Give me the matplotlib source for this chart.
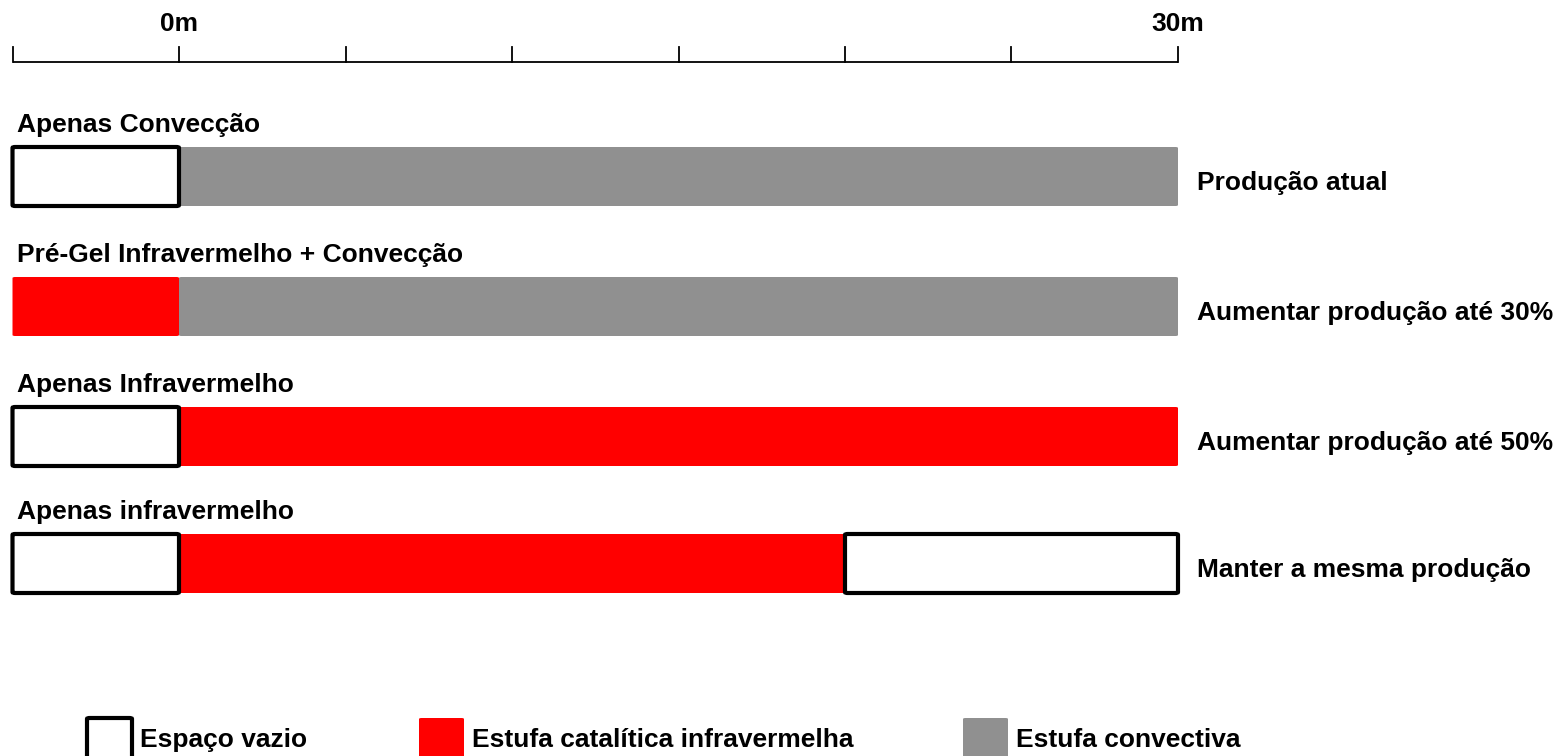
import matplotlib.pyplot as plt
from matplotlib.patches import FancyBboxPatch

plt.rcParams['font.family'] = ['Liberation Sans', 'DejaVu Sans']

# data
titles = ["Apenas Convecção", "Pré-Gel Infravermelho + Convecção",
          "Apenas Infravermelho", "Apenas infravermelho"]
notes = ["Produção atual", "Aumentar produção até 30%",
         "Aumentar produção até 50%", "Manter a mesma produção"]
seg_start = [[-5, 0], [-5, 0], [-5, 0], [-5, 0, 20]]
seg_end = [[0, 30], [0, 30], [0, 30], [0, 20, 30]]
seg_kind = [["vazio", "conv"], ["ir", "conv"], ["vazio", "ir"], ["vazio", "ir", "vazio"]]
scale_ticks = [-5, 0, 5, 10, 15, 20, 25, 30]
scale_labels = {0: "0m", 30: "30m"}
legend_kinds = ["vazio", "ir", "conv"]
legend_names = ["Espaço vazio", "Estufa catalítica infravermelha", "Estufa convectiva"]

styles = {
    "vazio": dict(facecolor="white", edgecolor="black", linewidth=3),
    "ir": dict(facecolor="#ff0000", edgecolor="none", linewidth=0),
    "conv": dict(facecolor="#909090", edgecolor="none", linewidth=0),
}

fs = 19

fig = plt.figure(figsize=(15.62, 7.56), dpi=100)
ax = fig.add_axes([0, 0, 1, 1])
px = 1 / 33.3  # metres per pixel
ax.set_xlim(-179 * px, (1562 - 179) * px)
ax.set_ylim(756, 0)
ax.axis("off")

# scale on top
ax.plot([scale_ticks[0], scale_ticks[-1]], [62, 62], color="black", lw=1.3,
        solid_capstyle="butt")
for t in scale_ticks:
    ax.plot([t, t], [62, 47], color="black", lw=1.3)
    if t in scale_labels:
        ax.text(t, 24, scale_labels[t], ha="center", va="center",
                fontsize=fs, fontweight="bold")

bar_top = [147, 277, 407, 534]
bar_h = 59
for i, title in enumerate(titles):
    y0 = bar_top[i]
    ax.text(-4.85, y0 - 22, title, ha="left", va="center", fontsize=fs, fontweight="bold")
    # filled segments first, boxes on top
    order = sorted(range(len(seg_kind[i])), key=lambda k: seg_kind[i][k] == "vazio")
    for k in order:
        s, e, kind = seg_start[i][k], seg_end[i][k], seg_kind[i][k]
        st = styles[kind]
        ax.add_patch(FancyBboxPatch((s, y0), e - s, bar_h,
                                    boxstyle="round,pad=0,rounding_size=0.08",
                                    mutation_aspect=12, zorder=3 if kind == "vazio" else 2,
                                    **st))
    ax.text(30 + 19 * px, y0 + 36, notes[i], ha="left", va="center",
            fontsize=fs, fontweight="bold")

# legend
leg_x = [87, 419, 963]
for kind, name, lx in zip(legend_kinds, legend_names, leg_x):
    m = (lx - 179) * px
    ax.add_patch(FancyBboxPatch((m, 718), 45 * px, 45,
                                boxstyle="round,pad=0,rounding_size=0.08",
                                mutation_aspect=12, clip_on=True, **styles[kind]))
    ax.text(m + 53 * px, 740, name, ha="left", va="center", fontsize=fs, fontweight="bold")

fig.savefig("out.png", dpi=100)
